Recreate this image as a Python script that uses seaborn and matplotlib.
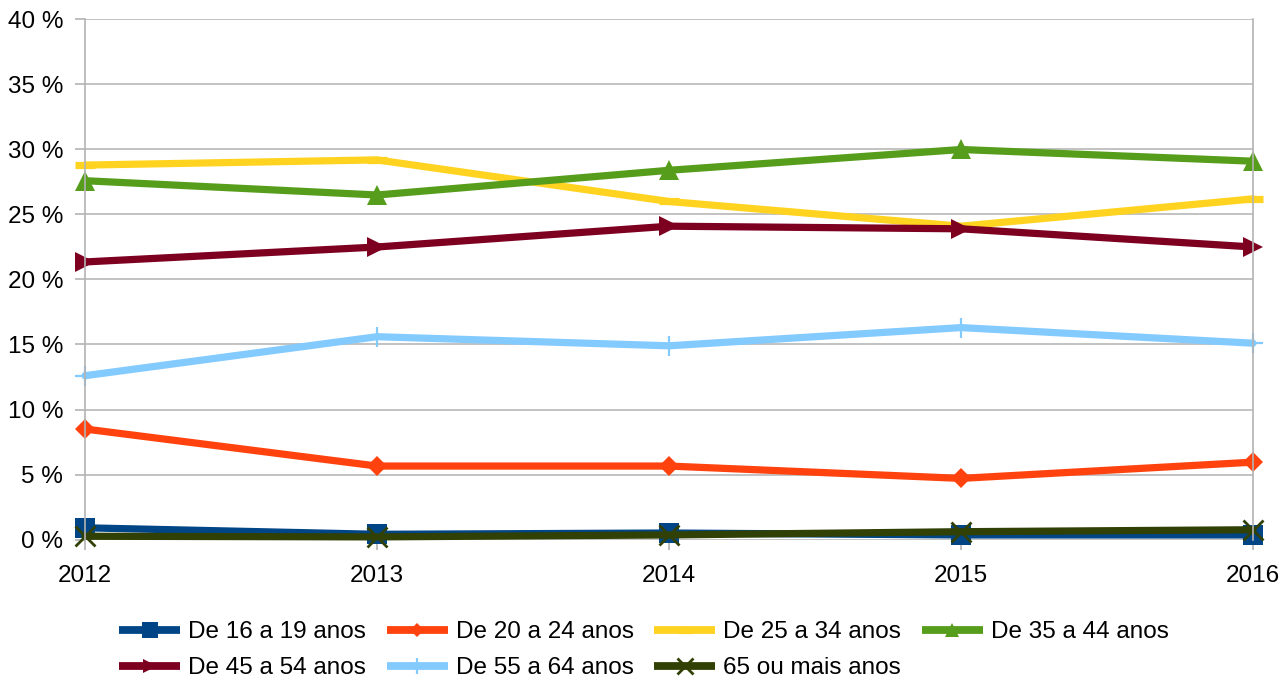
import matplotlib
matplotlib.use("Agg")
import matplotlib.pyplot as plt
import seaborn as sns
import numpy as np

years = [2012, 2013, 2014, 2015, 2016]
labels = ["De 16 a 19 anos", "De 20 a 24 anos", "De 25 a 34 anos", "De 35 a 44 anos",
          "De 45 a 54 anos", "De 55 a 64 anos", "65 ou mais anos"]
v16_19 = [0.9, 0.4, 0.5, 0.35, 0.35]
v20_24 = [8.5, 5.65, 5.65, 4.7, 5.95]
v25_34 = [28.8, 29.2, 26.0, 24.1, 26.2]
v35_44 = [27.6, 26.5, 28.4, 30.0, 29.1]
v45_54 = [21.35, 22.5, 24.1, 23.9, 22.5]
v55_64 = [12.6, 15.6, 14.9, 16.3, 15.1]
v65 = [0.25, 0.2, 0.35, 0.6, 0.75]
yticks = [0, 5, 10, 15, 20, 25, 30, 35, 40]

colors = ["#004586", "#ff420e", "#ffd320", "#579d1c", "#7e0021", "#83caff", "#314004"]
series = [v16_19, v20_24, v25_34, v35_44, v45_54, v55_64, v65]
LW = 5.2
styles = [
    dict(marker="s", ms=15, mew=0),
    dict(marker="D", ms=10, mew=0),
    dict(marker="_", ms=14.4, mew=LW),
    dict(marker="^", ms=14, mew=0),
    dict(marker=">", ms=14, mew=0),
    dict(marker="+", ms=15, mew=1.6),
    dict(marker="x", ms=15, mew=2.0),
]

FS = 17.5
sns.set_theme(style="white")
plt.rcParams["font.family"] = ["Liberation Sans", "DejaVu Sans"]
plt.rcParams["font.size"] = FS
plt.rcParams["text.color"] = "black"

fig = plt.figure(figsize=(12.86, 6.79), dpi=100)
ax = fig.add_axes([85/1286, 1-539.5/679, (1253-85)/1286, 520/679])

handles = []
for lab, col, vals, st in zip(labels, colors, series, styles):
    sns.lineplot(x=years, y=vals, ax=ax, color=col, lw=LW, label=lab,
                 markeredgecolor=col, clip_on=False, legend=False, **st)
    handles.append(ax.lines[-1])

ax.set_xlim(2012, 2016)
ax.set_ylim(0, 40)
ax.set_xticks(years)
ax.set_xticklabels([str(y) for y in years], fontsize=FS, color="black")
ax.set_yticks(yticks)
ax.set_yticklabels([f"{t} %" for t in yticks], fontsize=FS, color="black")
ax.yaxis.grid(True, color="#bdbdbd", lw=1.3)
ax.set_axisbelow(True)
for s in ["top", "bottom"]:
    ax.spines[s].set_visible(False)
for s in ["left", "right"]:
    ax.spines[s].set_color("#b3b3b3")
    ax.spines[s].set_linewidth(1.2)
ax.tick_params(axis="both", which="both", length=7.2, width=1.2, color="#b3b3b3",
               direction="out", left=True, bottom=True)
ax.tick_params(axis="y", pad=8.6)
ax.tick_params(axis="x", pad=11.5)
ax.set_xlabel("")
ax.set_ylabel("")

order = [0, 4, 1, 5, 2, 6, 3]
leg = fig.legend([handles[i] for i in order], [labels[i] for i in order], ncol=4,
                 loc="upper left", bbox_to_anchor=(119/1286, 1-621/679), frameon=False,
                 fontsize=FS, handlelength=2.51, handletextpad=0.33, columnspacing=0.85,
                 labelspacing=0.58, borderpad=0, borderaxespad=0, markerscale=0.75)
for t in leg.get_texts():
    t.set_color("black")
for lh in leg.legend_handles:
    lh.set_linewidth(5.6)
    lh.set_solid_capstyle("butt")

fig.savefig("out.png", dpi=100, facecolor="white")
